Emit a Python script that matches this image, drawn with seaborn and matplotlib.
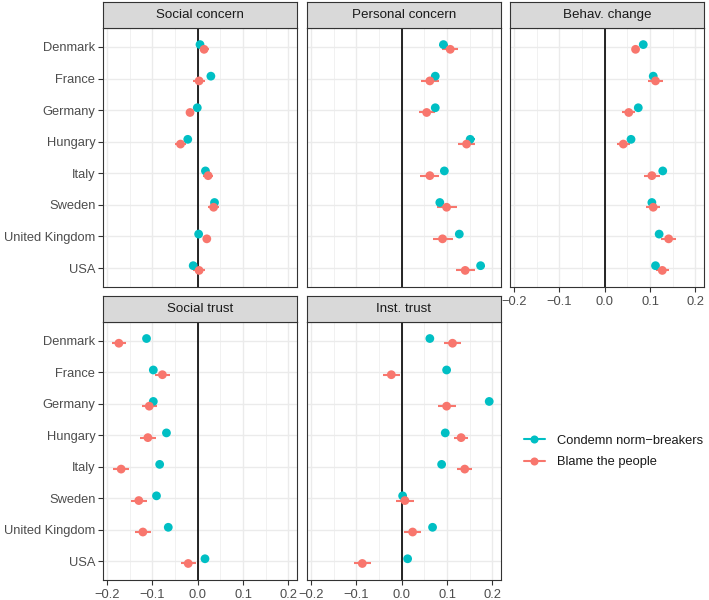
import numpy as np
import pandas as pd
import matplotlib
matplotlib.use("Agg")
import matplotlib.pyplot as plt
import seaborn as sns
from matplotlib.lines import Line2D

countries = ["Denmark", "France", "Germany", "Hungary", "Italy", "Sweden", "United Kingdom", "USA"]
panels = ["Social concern", "Personal concern", "Behav. change", "Social trust", "Inst. trust"]
series = ["Condemn norm\u2212breakers", "Blame the people"]
colors = ["#00BFC4", "#F8766D"]

# estimates (condemn = teal, blame = red) and CI half-widths
soc_concern_condemn = [0.005, 0.029, -0.001, -0.022, 0.017, 0.037, 0.002, -0.010]
soc_concern_condemn_err = [0.007, 0.007, 0.006, 0.007, 0.007, 0.007, 0.006, 0.008]
soc_concern_blame = [0.014, 0.003, -0.017, -0.038, 0.023, 0.035, 0.020, 0.003]
soc_concern_blame_err = [0.010, 0.013, 0.004, 0.012, 0.011, 0.013, 0.004, 0.013]

pers_concern_condemn = [0.092, 0.074, 0.074, 0.151, 0.094, 0.084, 0.127, 0.174]
pers_concern_condemn_err = [0.009, 0.009, 0.009, 0.010, 0.008, 0.009, 0.009, 0.009]
pers_concern_blame = [0.107, 0.062, 0.055, 0.143, 0.062, 0.099, 0.090, 0.140]
pers_concern_blame_err = [0.018, 0.020, 0.018, 0.018, 0.021, 0.022, 0.022, 0.021]

behav_change_condemn = [0.085, 0.107, 0.074, 0.058, 0.128, 0.104, 0.120, 0.112]
behav_change_condemn_err = [0.007, 0.008, 0.007, 0.007, 0.009, 0.008, 0.008, 0.008]
behav_change_blame = [0.068, 0.112, 0.053, 0.041, 0.104, 0.107, 0.141, 0.127]
behav_change_blame_err = [0.005, 0.016, 0.014, 0.015, 0.018, 0.016, 0.017, 0.014]

soc_trust_condemn = [-0.113, -0.098, -0.098, -0.069, -0.084, -0.091, -0.065, 0.016]
soc_trust_condemn_err = [0.007, 0.007, 0.007, 0.007, 0.007, 0.007, 0.007, 0.006]
soc_trust_blame = [-0.174, -0.078, -0.107, -0.110, -0.169, -0.130, -0.121, -0.021]
soc_trust_blame_err = [0.016, 0.017, 0.017, 0.017, 0.017, 0.017, 0.017, 0.017]

inst_trust_condemn = [0.062, 0.099, 0.193, 0.096, 0.088, 0.002, 0.068, 0.013]
inst_trust_condemn_err = [0.007, 0.007, 0.007, 0.007, 0.007, 0.007, 0.007, 0.007]
inst_trust_blame = [0.112, -0.023, 0.099, 0.131, 0.139, 0.007, 0.024, -0.087]
inst_trust_blame_err = [0.018, 0.019, 0.020, 0.016, 0.017, 0.019, 0.019, 0.019]

panel_data = {
    "Social concern": (soc_concern_condemn, soc_concern_condemn_err, soc_concern_blame, soc_concern_blame_err),
    "Personal concern": (pers_concern_condemn, pers_concern_condemn_err, pers_concern_blame, pers_concern_blame_err),
    "Behav. change": (behav_change_condemn, behav_change_condemn_err, behav_change_blame, behav_change_blame_err),
    "Social trust": (soc_trust_condemn, soc_trust_condemn_err, soc_trust_blame, soc_trust_blame_err),
    "Inst. trust": (inst_trust_condemn, inst_trust_condemn_err, inst_trust_blame, inst_trust_blame_err),
}

rows = []
dodge = [-0.075, 0.075]
for p in panels:
    c, ce, b, be = panel_data[p]
    for si, (est, err) in enumerate([(c, ce), (b, be)]):
        for ci, cn in enumerate(countries):
            rows.append(dict(panel=p, country=cn, series=series[si], est=est[ci],
                             err=err[ci], y=ci + dodge[si]))
df = pd.DataFrame(rows)

sns.set_theme(style="white")
plt.rcParams["font.family"] = ["Liberation Sans", "DejaVu Sans"]
FS = 9.3
TXT = "#4D4D4D"
DARK = "#333333"

W, H = 709, 600
fig = plt.figure(figsize=(W / 100, H / 100), dpi=100)
fig.patch.set_facecolor("white")

def px_axes(l, t, w, h):
    return fig.add_axes([l / W, (H - t - h) / H, w / W, h / H])

lefts = [103, 307, 510]
pw = 194
tops = [(2, 28, 259), (296, 322, 258)]  # strip top, plot top, plot height

positions = [(0, 0), (0, 1), (0, 2), (1, 0), (1, 1)]
for p, (r, cidx) in zip(panels, positions):
    st, pt, ph = tops[r]
    l = lefts[cidx]
    ax = px_axes(l, pt, pw, ph)
    sax = px_axes(l, st, pw, pt - st)
    # strip
    sax.set_facecolor("#D9D9D9")
    sax.set_xticks([]); sax.set_yticks([])
    for s in sax.spines.values():
        s.set_color(DARK); s.set_linewidth(0.8)
    sax.text(0.5, 0.5, p, ha="center", va="center", fontsize=FS + 0.3, color="#1A1A1A",
             transform=sax.transAxes)

    sub = df[df.panel == p]
    ax.set_facecolor("white")
    ax.set_axisbelow(True)
    ax.set_xlim(-0.209, 0.219)
    ax.set_ylim(7.6, -0.6)
    ax.set_xticks([-0.2, -0.1, 0.0, 0.1, 0.2])
    ax.set_xticks([-0.15, -0.05, 0.05, 0.15], minor=True)
    ax.set_yticks(range(len(countries)))
    ax.grid(True, which="major", color="#EBEBEB", lw=1.0)
    ax.grid(True, which="minor", axis="x", color="#EBEBEB", lw=0.5)
    ax.axvline(0, color="black", lw=1.2, zorder=1.5)

    for si, sname in enumerate(series):
        d = sub[sub.series == sname]
        ax.hlines(d["y"], d["est"] - d["err"], d["est"] + d["err"], color=colors[si],
                  lw=1.5, zorder=2 + si)
    sns.scatterplot(data=sub, x="est", y="y", hue="series", hue_order=series,
                    palette=colors, s=40, edgecolor="none", legend=False, ax=ax, zorder=3)
    ax.set_xlabel(""); ax.set_ylabel("")

    for s in ax.spines.values():
        s.set_color(DARK); s.set_linewidth(0.8); s.set_visible(True)

    ax.tick_params(which="minor", length=0)
    show_x = (r == 1) or (cidx == 2)
    show_y = cidx == 0
    if show_x:
        ax.set_xticklabels(["\u22120.2", "\u22120.1", "0.0", "0.1", "0.2"])
        ax.tick_params(axis="x", which="major", length=3.5, width=0.8, color=DARK,
                       labelsize=FS, labelcolor=TXT, pad=3, bottom=True)
    else:
        ax.tick_params(axis="x", which="major", length=0, labelbottom=False)
    if show_y:
        ax.set_yticklabels(countries)
        ax.tick_params(axis="y", which="major", length=3.5, width=0.8, color=DARK,
                       labelsize=FS, labelcolor=TXT, pad=2, left=True)
    else:
        ax.tick_params(axis="y", which="major", length=0, labelleft=False)

handles = [Line2D([0], [0], color=colors[i], lw=1.5, marker="o", markersize=5.8,
                  markeredgewidth=0) for i in range(2)]
fig.legend(handles, series, loc="center left", bbox_to_anchor=(524 / W, (H - 451.5) / H),
           frameon=False, fontsize=FS, handlelength=1.6, handletextpad=0.95,
           labelspacing=0.75, borderpad=0, borderaxespad=0, labelcolor="#1A1A1A")

fig.savefig("out.png", dpi=100, facecolor="white")
